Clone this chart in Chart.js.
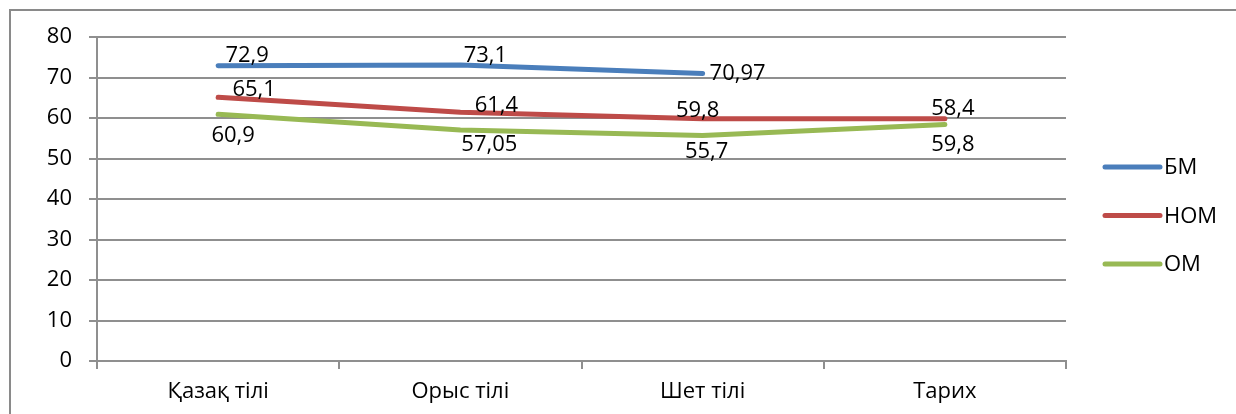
<!DOCTYPE html>
<html>
<head>
<meta charset="utf-8">
<script src="https://cdn.jsdelivr.net/npm/chart.js@4.4.1/dist/chart.umd.min.js"></script>
<style>
  html, body { margin: 0; padding: 0; background: #fff; }
  #wrap { position: relative; width: 1236px; height: 414px; overflow: hidden; }
  #frame { position: absolute; left: 9px; top: 9px; width: 1300px; height: 500px; border: 2px solid #8a8a8a; box-sizing: border-box; }
  canvas { position: absolute; left: 0; top: 0; }
</style>
</head>
<body>
<div id="wrap">
  <div id="frame"></div>
  <canvas id="chart" width="1236" height="414"></canvas>
</div>
<script>
// categories and series
const categories = ['Қазақ тілі', 'Орыс тілі', 'Шет тілі', 'Тарих'];
const seriesNames = ['БМ', 'НОМ', 'ОМ'];
const bmValues = [72.9, 73.1, 70.97, null];
const nomValues = [65.1, 61.4, 59.8, 59.8];
const omValues = [60.9, 57.05, 55.7, 58.4];
// data labels as printed on the chart
const bmLabels = ['72,9', '73,1', '70,97', ''];
const nomLabels = ['65,1', '61,4', '59,8', '58,4'];
const omLabels = ['60,9', '57,05', '55,7', '59,8'];
// y axis
const yMin = 0, yMax = 80, yStep = 10;

const FONT = "'Open Sans', sans-serif";
const FONT_SIZE = 22;
const GRID = '#8f8f8f';

// label offsets from each point (label centre), px
const labelOffsets = [
  [[29, -12], [25, -11], [35, -1], [0, 0]],
  [[36, -9], [36, -8], [-5, -10], [8, -12]],
  [[15, 20], [29, 13], [4, 15], [8, 19]],
];

const dataLabels = {
  id: 'dataLabels',
  afterDatasetsDraw(chart) {
    const ctx = chart.ctx;
    const texts = [bmLabels, nomLabels, omLabels];
    ctx.save();
    ctx.font = FONT_SIZE + 'px ' + FONT;
    ctx.fillStyle = '#000';
    ctx.textAlign = 'center';
    ctx.textBaseline = 'alphabetic';
    chart.data.datasets.forEach((ds, di) => {
      const meta = chart.getDatasetMeta(di);
      meta.data.forEach((pt, i) => {
        const t = texts[di][i];
        if (!t || ds.data[i] == null) return;
        const [dx, dy] = labelOffsets[di][i];
        ctx.fillText(t, pt.x + dx, pt.y + dy + FONT_SIZE * 0.36);
      });
    });
    ctx.restore();
  }
};

const sideLegend = {
  id: 'sideLegend',
  afterDraw(chart) {
    const ctx = chart.ctx;
    const x0 = 1105, x1 = 1160, y0 = 167, gap = 48.5;
    ctx.save();
    ctx.font = FONT_SIZE + 'px ' + FONT;
    ctx.textBaseline = 'middle';
    ctx.textAlign = 'left';
    chart.data.datasets.forEach((ds, i) => {
      const y = y0 + i * gap;
      ctx.strokeStyle = ds.borderColor;
      ctx.lineWidth = 5;
      ctx.lineCap = 'round';
      ctx.beginPath();
      ctx.moveTo(x0, y);
      ctx.lineTo(x1, y);
      ctx.stroke();
      ctx.fillStyle = '#000';
      ctx.fillText(ds.label, x1 + 4, y + 1);
    });
    ctx.restore();
  }
};

const lineStyle = (color) => ({
  borderColor: color,
  backgroundColor: color,
  borderWidth: 5,
  borderCapStyle: 'round',
  borderJoinStyle: 'round',
  pointRadius: 0,
  tension: 0,
  fill: false,
});

new Chart(document.getElementById('chart'), {
  type: 'line',
  data: {
    labels: categories,
    datasets: [
      { label: seriesNames[0], data: bmValues, ...lineStyle('#4a7ebb') },
      { label: seriesNames[1], data: nomValues, ...lineStyle('#be4b48') },
      { label: seriesNames[2], data: omValues, ...lineStyle('#98b954') },
    ],
  },
  options: {
    responsive: false,
    animation: false,
    layout: { padding: { top: 37, right: 170, bottom: 0, left: 0 } },
    plugins: { legend: { display: false }, tooltip: { enabled: false } },
    scales: {
      x: {
        offset: true,
        grid: { offset: true, drawOnChartArea: false, tickLength: 8, color: GRID, lineWidth: 2 },
        border: { color: GRID, width: 2 },
        ticks: { font: { family: FONT, size: FONT_SIZE }, color: '#000', padding: 10, maxRotation: 0 },
        afterFit: (s) => { s.height = 53; },
      },
      y: {
        min: yMin,
        max: yMax,
        ticks: { stepSize: yStep, font: { family: FONT, size: FONT_SIZE }, color: '#000', padding: 17 },
        grid: { color: GRID, lineWidth: 2, tickLength: 8 },
        border: { color: GRID, width: 2 },
        afterFit: (s) => { s.width = 97; },
      },
    },
  },
  plugins: [dataLabels, sideLegend],
});
</script>
</body>
</html>
